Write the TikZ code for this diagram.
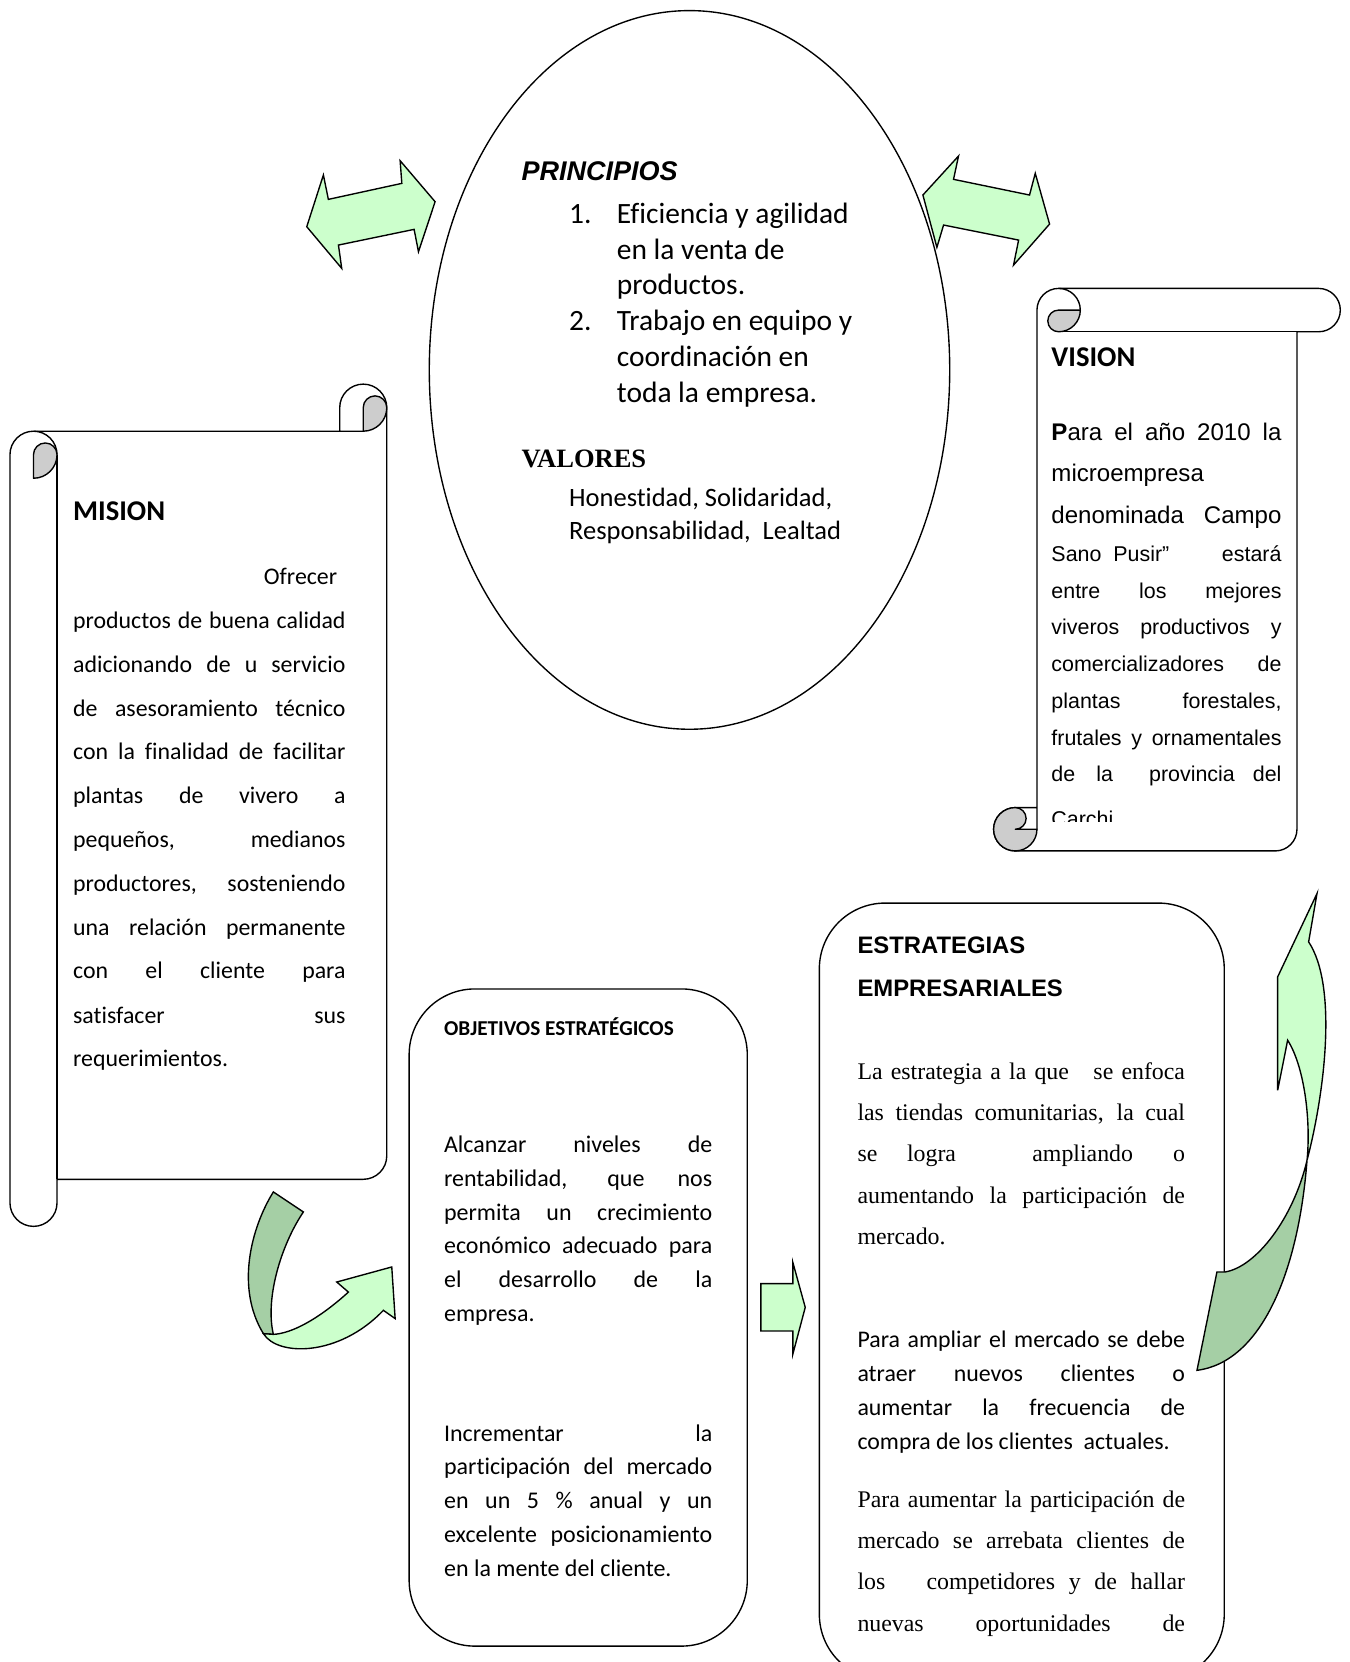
\documentclass[tikz,border=0pt]{standalone}
\usepackage{fontspec}
\setmainfont{Carlito}[Ligatures=NoCommon]
\newfontfamily\arialf{Liberation Sans}[Ligatures=NoCommon]
\newfontfamily\timesf{Liberation Serif}[Ligatures=NoCommon]
\usetikzlibrary{shapes.geometric}
\definecolor{lgreen}{HTML}{CCFFCC}
\definecolor{dgreen}{HTML}{A5CFA5}
\definecolor{curlgray}{HTML}{CDCDCD}
\newcommand\SetSk[5]{%
 \pgfmathsetmacro\SkL{#1}\pgfmathsetmacro\SkT{#2}\pgfmathsetmacro\SkR{#3}%
 \pgfmathsetmacro\SkB{#4}\pgfmathsetmacro\SkC{#5}%
 \pgfmathsetmacro\SkH{#5/2}\pgfmathsetmacro\SkQ{#5/4}}
\newcommand\JL[2]{\makebox[#1pt][s]{#2}}
\begin{document}
\begin{tikzpicture}[x=1pt,y=-1pt,
  outl/.style={draw=black,line width=1.3pt},
  scrollbody/.style={outl,fill=white,line join=round},
  curl/.style={outl,fill=curlgray,line join=round},
  lgarrow/.style={outl,fill=lgreen,line join=miter},
  dgarrow/.style={outl,fill=dgreen,line join=miter},
  rbox/.style={outl,fill=white,rounded corners=62pt,inner sep=0pt},
  txt/.style={anchor=base west,inner sep=0pt,outer sep=0pt},
  body/.style={txt,font=\fontsize{22.5}{27}\selectfont},
  objt/.style={txt,font=\fontsize{22.6}{27}\selectfont},
  lst/.style={txt,font=\fontsize{27.8}{33}\selectfont},
  val/.style={txt,font=\fontsize{25}{30}\selectfont},
  headc/.style={txt,font=\fontsize{27}{32}\selectfont\bfseries},
  arA/.style={txt,font=\arialf\fontsize{22.7}{27}\selectfont},
  arB/.style={txt,font=\arialf\fontsize{20.2}{24}\selectfont},
  tnr/.style={txt,font=\timesf\fontsize{22.5}{27}\selectfont},
]
\useasboundingbox (0,0) rectangle (1273,1568);
\clip (0,0) rectangle (1273,1568);

% ---------- central ellipse ----------
\node[ellipse,draw,line width=1.3pt,fill=white,minimum width=491pt,minimum height=678pt,inner sep=0pt] (elip) at (650.5,349) {};

% ---------- MISION scroll ----------
\SetSk{9.4}{362.4}{364.9}{1157}{44.4}
\draw[scrollbody] ({\SkR-\SkH},{\SkT+\SkC}) -- ({\SkL+\SkH},{\SkT+\SkC})
  arc[start angle=-90,end angle=-180,radius=\SkH]
  -- (\SkL,{\SkB-\SkH}) arc[start angle=-180,end angle=-360,radius=\SkH]
  -- ({\SkL+\SkC},{\SkB-\SkC}) -- ({\SkR-\SkH},{\SkB-\SkC})
  arc[start angle=90,end angle=0,radius=\SkH]
  -- (\SkR,{\SkT+\SkH}) arc[start angle=0,end angle=-180,radius=\SkH]
  -- ({\SkR-\SkC},{\SkT+\SkC}) -- cycle;
\draw[outl] ({\SkL+\SkC},{\SkB-\SkC}) -- ({\SkL+\SkC},{\SkT+\SkC+\SkH});
\draw[outl] ({\SkL+\SkH},{\SkT+\SkC}) arc[start angle=-90,end angle=0,radius=\SkH];
\draw[curl] ({\SkL+\SkH},{\SkT+\SkC+\SkH}) -- ({\SkL+\SkH},{\SkT+\SkC+\SkC})
  arc[start angle=90,end angle=0,radius=\SkH]
  arc[start angle=0,end angle=-180,radius=\SkQ] -- cycle;
\draw[curl] ({\SkR-\SkH},{\SkT+\SkC}) -- ({\SkR-\SkH},{\SkT+\SkH})
  arc[start angle=180,end angle=360,radius=\SkQ]
  arc[start angle=0,end angle=90,radius=\SkH] -- cycle;

% ---------- VISION scroll ----------
\SetSk{937.4}{272.1}{1264.5}{802.8}{40.9}
\draw[scrollbody] ({\SkL+\SkC},{\SkB-\SkH}) -- ({\SkL+\SkC},{\SkT+\SkH})
  arc[start angle=180,end angle=270,radius=\SkH]
  -- ({\SkR-\SkH},\SkT) arc[start angle=270,end angle=450,radius=\SkH]
  -- ({\SkR-\SkC},{\SkT+\SkC}) -- ({\SkR-\SkC},{\SkB-\SkH})
  arc[start angle=0,end angle=90,radius=\SkH]
  -- ({\SkL+\SkH},\SkB) arc[start angle=90,end angle=270,radius=\SkH]
  -- ({\SkL+\SkC},{\SkB-\SkC}) -- cycle;
\draw[outl] ({\SkR-\SkH},{\SkT+\SkC}) -- ({\SkL+\SkC+\SkH},{\SkT+\SkC});
\draw[outl] ({\SkL+\SkC+\SkH},\SkT) arc[start angle=270,end angle=360,radius=\SkH];
\draw[curl] ({\SkL+\SkC+\SkH},{\SkT+\SkH}) -- ({\SkL+\SkC+\SkC},{\SkT+\SkH})
  arc[start angle=0,end angle=90,radius=\SkH]
  arc[start angle=90,end angle=270,radius=\SkQ] -- cycle;
\draw[curl] ({\SkL+\SkH},{\SkB-\SkC}) arc[start angle=270,end angle=0,radius=\SkH]
  -- ({\SkL+\SkH},{\SkB-\SkH}) arc[start angle=90,end angle=-90,radius=\SkQ] -- cycle;

% ---------- rounded boxes ----------
\node[rbox,minimum width=319pt,minimum height=620pt] (obj) at (545.5,1243) {};
\node[rbox,minimum width=382pt,minimum height=733pt] (est) at (964,1218.5) {};

% ---------- block arrows ----------
\draw[lgarrow] (289.4,213.9) -- (305.1,165.1) -- (309.8,188.1) -- (379.1,173) -- (377.5,151.6)
  -- (410.5,190.3) -- (394.8,237.5) -- (390.7,216.4) -- (319.3,231.2) -- (322.4,253.2) -- cycle;
\draw[lgarrow] (870.7,184) -- (904.3,147.2) -- (899.6,169.2) -- (971.3,184) -- (976.7,163.5)
  -- (990.2,211.4) -- (956.2,250.1) -- (961,226.5) -- (890.2,212.3) -- (883.9,233.4) -- cycle;
\draw[lgarrow] (717.8,1211) -- (748,1211) -- (748,1191) -- (759.7,1233.4) -- (748,1277.5)
  -- (748,1255.7) -- (717.8,1255.7) -- cycle;
% curved arrow bottom left
\draw[dgarrow] (257.9,1124.5) -- (286.2,1143.4) .. controls (265,1175) and (250,1225) .. (257.9,1258.9)
  -- (248.5,1258.2) .. controls (222,1215) and (237,1158) .. (257.9,1124.5) -- cycle;
\draw[lgarrow] (248.5,1258.2) .. controls (262,1280) and (320,1280) .. (361.7,1236.2)
  -- (372.8,1244) -- (369.6,1195.3) -- (317.7,1209.5) -- (328.7,1219)
  .. controls (300,1245) and (275,1258) .. (257.9,1258.9) -- cycle;
% curved arrow right
\draw[lgarrow] (1242.5,843) -- (1205.4,921.6) -- (1205.4,1028.6) -- (1214.8,981.4)
  .. controls (1230,1005) and (1237,1055) .. (1233.1,1094.7)
  .. controls (1250,1030) and (1262,930) .. (1234.6,888.6) -- cycle;
\draw[dgarrow] (1233.1,1094.7) .. controls (1225,1200) and (1190,1285) .. (1129.3,1292.8)
  -- (1148.1,1200) -- (1156,1200) .. controls (1185,1195) and (1220,1150) .. (1233.1,1094.7) -- cycle;

% ---------- PRINCIPIOS / VALORES ----------
\node[txt,font=\arialf\fontsize{25.5}{30}\selectfont\bfseries\itshape] (prin) at (492,170) {PRINCIPIOS};
\node[lst] (n1) at (537,211) {1.};
\node[lst] (l1) at (582,211) {Eficiencia y agilidad};
\node[lst] (l2) at (582,245) {en la venta de};
\node[lst] (l3) at (582,278) {productos.};
\node[lst] (n2) at (537,312) {2.};
\node[lst] (l4) at (582,312) {Trabajo en equipo y};
\node[lst] (l5) at (582,346) {coordinación en};
\node[lst] (l6) at (582,380) {toda la empresa.};
\node[txt,font=\timesf\fontsize{25}{30}\selectfont\bfseries] (valt) at (492,441) {VALORES};
\node[val] (v1) at (537,478) {Honestidad, Solidaridad,};
\node[val] (v2) at (537,509) {Responsabilidad,\ \ Lealtad};

% ---------- MISION text ----------
\node[headc] (mtit) at (69,491) {MISION};
\node[body] (m0) at (249,551.5) {Ofrecer};
\node[body] (m1) at (69,592.5) {\JL{257}{productos de buena calidad}};
\node[body] (m2) at (69,634.5) {\JL{257}{adicionando de u servicio}};
\node[body] (m3) at (69,675.5) {\JL{257}{de asesoramiento técnico}};
\node[body] (m4) at (69,716.5) {\JL{257}{con la finalidad de facilitar}};
\node[body] (m5) at (69,758.5) {\JL{257}{plantas de vivero a}};
\node[body] (m6) at (69,799.5) {\JL{257}{pequeños, medianos}};
\node[body] (m7) at (69,841.5) {\JL{257}{productores, sosteniendo}};
\node[body] (m8) at (69,882.5) {\JL{257}{una relación permanente}};
\node[body] (m9) at (69,923.5) {\JL{257}{con el cliente para}};
\node[body] (m10) at (69,965.5) {\JL{257}{satisfacer sus}};
\node[body] (m11) at (69,1006.5) {requerimientos.};

% ---------- VISION text ----------
\node[headc] (vtit) at (992,346) {VISION};
\node[arA] (va1) at (992,415.5) {\JL{217}{{\bfseries P}ara el año 2010 la}};
\node[arA] (va2) at (992,454.5) {microempresa};
\node[arA] (va3) at (992,493.5) {\JL{217}{denominada Campo}};
\node[arB] (vb1) at (992,529.5) {\makebox[217pt][l]{Sano\ \ Pusir”\hfill estará}};
\node[arB] (vb2) at (992,564.5) {\JL{217}{entre los mejores}};
\node[arB] (vb3) at (992,599) {\JL{217}{viveros productivos y}};
\node[arB] (vb4) at (992,633.5) {\JL{217}{comercializadores de}};
\node[arB] (vb5) at (992,668.5) {\JL{217}{plantas forestales,}};
\node[arB] (vb6) at (992,703.5) {\JL{217}{frutales y ornamentales}};
\node[arB] (vb7) at (992,737.5) {\makebox[217pt][l]{de\hspace{20pt}la\hspace{34pt}provincia\hfill del}};
\begin{scope}
\clip (985,742) rectangle (1220,775.5);
\node[arB] (vb8) at (992,780) {Carchi};
\end{scope}

% ---------- OBJETIVOS text ----------
\node[txt,font=\fontsize{20}{24}\selectfont\bfseries] (ohead) at (419,976.5) {OBJETIVOS ESTRATÉGICOS};
\node[objt] (o1) at (419,1087.5) {\JL{253}{Alcanzar niveles de}};
\node[objt] (o2) at (419,1119.5) {\JL{253}{rentabilidad, que nos}};
\node[objt] (o3) at (419,1151) {\JL{253}{permita un crecimiento}};
\node[objt] (o4) at (419,1183) {\JL{253}{económico adecuado para}};
\node[objt] (o5) at (419,1215) {\JL{253}{el desarrollo de la}};
\node[objt] (o6) at (419,1247) {empresa.};
\node[objt] (o7) at (419,1359.5) {\JL{253}{Incrementar la}};
\node[objt] (o8) at (419,1391.5) {\JL{253}{participación del mercado}};
\node[objt] (o9) at (419,1423.5) {\JL{253}{en un 5 \% anual y un}};
\node[objt] (o10) at (419,1455.5) {\JL{253}{excelente posicionamiento}};
\node[objt] (o11) at (419,1487) {en la mente del cliente.};

% ---------- ESTRATEGIAS text ----------
\node[txt,font=\arialf\fontsize{22.5}{27}\selectfont\bfseries] (eh1) at (809,900) {ESTRATEGIAS};
\node[txt,font=\arialf\fontsize{22.5}{27}\selectfont\bfseries] (eh2) at (809,940) {EMPRESARIALES};
\node[tnr] (t1) at (809,1018) {\makebox[309pt][s]{La estrategia a la que\ \ \ se enfoca}};
\node[tnr] (t2) at (809,1057) {\JL{309}{las tiendas comunitarias, la cual}};
\node[tnr] (t3) at (809,1096) {\makebox[309pt][l]{se\hspace{28pt}logra\hspace{72pt}ampliando\hfill o}};
\node[tnr] (t4) at (809,1135) {\JL{309}{aumentando la participación de}};
\node[tnr] (t5) at (809,1174) {mercado.};
\node[body] (c1) at (809,1271.5) {\JL{309}{Para ampliar el mercado se debe}};
\node[body] (c2) at (809,1303.5) {\JL{309}{atraer nuevos clientes o}};
\node[body] (c3) at (809,1335.5) {\JL{309}{aumentar la frecuencia de}};
\node[body] (c4) at (809,1367.5) {compra de los clientes\ \ actuales.};
\node[tnr] (t6) at (809,1422) {\JL{309}{Para aumentar la participación de}};
\node[tnr] (t7) at (809,1461) {\JL{309}{mercado se arrebata clientes de}};
\node[tnr] (t8) at (809,1500) {\makebox[309pt][s]{los\ \ \ competidores y de hallar}};
\node[tnr] (t9) at (809,1539) {\JL{309}{nuevas oportunidades de}};
\end{tikzpicture}
\end{document}
